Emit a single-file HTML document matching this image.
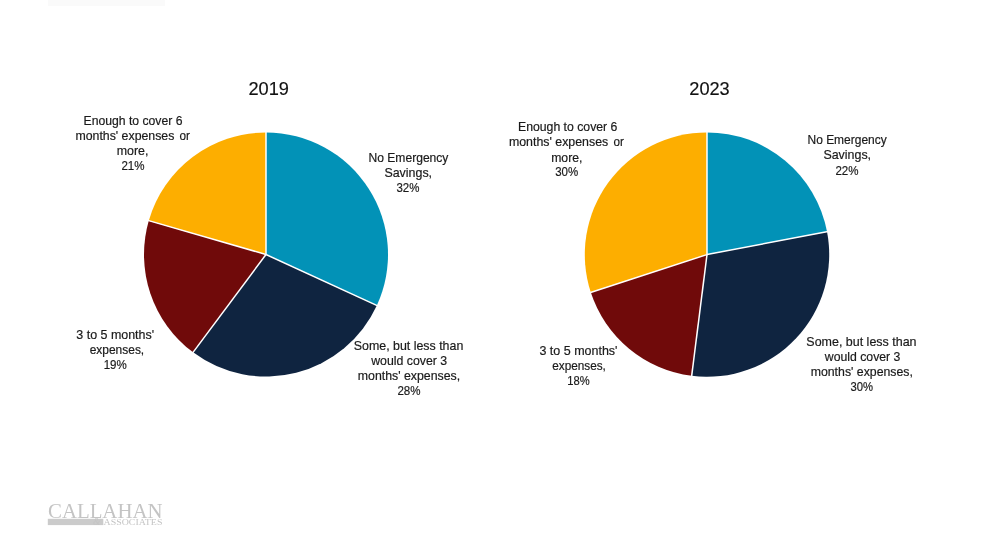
<!DOCTYPE html>
<html><head><meta charset="utf-8"><style>
html,body{margin:0;padding:0;background:#fff;}
body{width:1000px;height:543px;overflow:hidden;}
svg{display:block;}
.t{filter:grayscale(1);}
.t text{font-family:"Liberation Sans",Arial,sans-serif;font-size:13.0px;fill:#1a1a1a;stroke:#1a1a1a;stroke-width:0.2px;}
.t text.h{font-size:18.2px;fill:#111;stroke:#111;stroke-width:0.15px;text-anchor:middle;}
.logo text{font-family:"Liberation Serif","Times New Roman",serif;fill:#c4c4c4;}
.cal{font-size:21px;fill:#c2c2c2;}
.amp{font-size:9.5px;font-style:italic;fill:#939393;}
.assoc{font-size:8.5px;fill:#cdcdcd;}
</style></head><body>
<svg width="1000" height="543" viewBox="0 0 1000 543">
<defs><filter id="gs"><feColorMatrix type="saturate" values="0"/></filter></defs>
<path d="M266,254.5 L266.00,132.50 A122,122 0 0 1 376.84,305.48 Z" fill="#0292b7"/>
<path d="M266,254.5 L376.84,305.48 A122,122 0 0 1 193.09,352.32 Z" fill="#0f2440"/>
<path d="M266,254.5 L193.09,352.32 A122,122 0 0 1 148.78,220.67 Z" fill="#700a0a"/>
<path d="M266,254.5 L148.78,220.67 A122,122 0 0 1 266.00,132.50 Z" fill="#fdae00"/>
<line x1="266" y1="254.5" x2="266.00" y2="131.50" stroke="#fff" stroke-width="1.5"/>
<line x1="266" y1="254.5" x2="377.75" y2="305.90" stroke="#fff" stroke-width="1.5"/>
<line x1="266" y1="254.5" x2="192.49" y2="353.12" stroke="#fff" stroke-width="1.5"/>
<line x1="266" y1="254.5" x2="147.82" y2="220.39" stroke="#fff" stroke-width="1.5"/>
<path d="M707,254.6 L707.00,132.40 A122.2,122.2 0 0 1 827.04,231.70 Z" fill="#0292b7"/>
<path d="M707,254.6 L827.04,231.70 A122.2,122.2 0 0 1 691.68,375.84 Z" fill="#0f2440"/>
<path d="M707,254.6 L691.68,375.84 A122.2,122.2 0 0 1 590.78,292.36 Z" fill="#700a0a"/>
<path d="M707,254.6 L590.78,292.36 A122.2,122.2 0 0 1 707.00,132.40 Z" fill="#fdae00"/>
<line x1="707" y1="254.6" x2="707.00" y2="131.40" stroke="#fff" stroke-width="1.5"/>
<line x1="707" y1="254.6" x2="828.02" y2="231.51" stroke="#fff" stroke-width="1.5"/>
<line x1="707" y1="254.6" x2="691.56" y2="376.83" stroke="#fff" stroke-width="1.5"/>
<line x1="707" y1="254.6" x2="589.83" y2="292.67" stroke="#fff" stroke-width="1.5"/>
<g class="t">
<text class="h" x="268.7" y="95.3">2019</text>
<text class="h" x="709.5" y="95.3">2023</text>
<text class="l" id="s0" x="83.50" y="125.0" textLength="99.00" lengthAdjust="spacingAndGlyphs">Enough to cover 6</text>
<text class="l" id="s1" x="75.40" y="139.8" textLength="99.00" lengthAdjust="spacingAndGlyphs">months' expenses</text>
<text class="l" id="s2" x="179.45" y="139.8" textLength="10.45" lengthAdjust="spacingAndGlyphs">or</text>
<text class="l" id="s3" x="116.70" y="154.9" textLength="31.70" lengthAdjust="spacingAndGlyphs">more,</text>
<text class="l" id="s4" x="121.40" y="169.9" textLength="23.10" lengthAdjust="spacingAndGlyphs">21%</text>
<text class="l" id="s5" x="368.50" y="161.7" textLength="79.90" lengthAdjust="spacingAndGlyphs">No Emergency</text>
<text class="l" id="s6" x="384.40" y="176.7" textLength="47.70" lengthAdjust="spacingAndGlyphs">Savings,</text>
<text class="l" id="s7" x="396.40" y="191.7" textLength="23.00" lengthAdjust="spacingAndGlyphs">32%</text>
<text class="l" id="s8" x="353.80" y="349.8" textLength="109.50" lengthAdjust="spacingAndGlyphs">Some, but less than</text>
<text class="l" id="s9" x="371.20" y="364.8" textLength="76.00" lengthAdjust="spacingAndGlyphs">would cover 3</text>
<text class="l" id="s10" x="357.80" y="379.8" textLength="102.40" lengthAdjust="spacingAndGlyphs">months' expenses,</text>
<text class="l" id="s11" x="397.40" y="394.8" textLength="23.10" lengthAdjust="spacingAndGlyphs">28%</text>
<text class="l" id="s12" x="76.30" y="338.9" textLength="77.80" lengthAdjust="spacingAndGlyphs">3 to 5 months'</text>
<text class="l" id="s13" x="89.70" y="353.7" textLength="54.50" lengthAdjust="spacingAndGlyphs">expenses,</text>
<text class="l" id="s14" x="103.70" y="368.9" textLength="23.10" lengthAdjust="spacingAndGlyphs">19%</text>
<text class="l" id="s15" x="518.00" y="131.3" textLength="99.40" lengthAdjust="spacingAndGlyphs">Enough to cover 6</text>
<text class="l" id="s16" x="508.95" y="146.3" textLength="99.25" lengthAdjust="spacingAndGlyphs">months' expenses</text>
<text class="l" id="s17" x="613.50" y="146.3" textLength="10.35" lengthAdjust="spacingAndGlyphs">or</text>
<text class="l" id="s18" x="551.20" y="161.6" textLength="31.20" lengthAdjust="spacingAndGlyphs">more,</text>
<text class="l" id="s19" x="555.20" y="176.2" textLength="23.00" lengthAdjust="spacingAndGlyphs">30%</text>
<text class="l" id="s20" x="807.50" y="144.4" textLength="79.20" lengthAdjust="spacingAndGlyphs">No Emergency</text>
<text class="l" id="s21" x="823.40" y="159.4" textLength="47.70" lengthAdjust="spacingAndGlyphs">Savings,</text>
<text class="l" id="s22" x="835.40" y="174.6" textLength="23.10" lengthAdjust="spacingAndGlyphs">22%</text>
<text class="l" id="s23" x="806.35" y="345.8" textLength="110.15" lengthAdjust="spacingAndGlyphs">Some, but less than</text>
<text class="l" id="s24" x="824.80" y="360.7" textLength="75.60" lengthAdjust="spacingAndGlyphs">would cover 3</text>
<text class="l" id="s25" x="810.70" y="375.7" textLength="102.20" lengthAdjust="spacingAndGlyphs">months' expenses,</text>
<text class="l" id="s26" x="850.60" y="390.9" textLength="22.55" lengthAdjust="spacingAndGlyphs">30%</text>
<text class="l" id="s27" x="539.40" y="354.9" textLength="78.10" lengthAdjust="spacingAndGlyphs">3 to 5 months'</text>
<text class="l" id="s28" x="552.20" y="369.8" textLength="53.70" lengthAdjust="spacingAndGlyphs">expenses,</text>
<text class="l" id="s29" x="567.20" y="384.9" textLength="22.40" lengthAdjust="spacingAndGlyphs">18%</text>
</g>
<g class="logo" filter="url(#gs)">
<rect x="48" y="0" width="117" height="6" fill="#fafafa"/>
<text x="48" y="517.6" class="cal" textLength="114.5" lengthAdjust="spacingAndGlyphs">CALLAHAN</text>
<rect x="47.8" y="518.8" width="55.5" height="6.3" fill="#cbcbcb"/>
<text x="93" y="525.4" class="amp">&amp;</text>
<text x="103.6" y="525.1" class="assoc" textLength="58.8" lengthAdjust="spacingAndGlyphs">ASSOCIATES</text>
</g>
</svg>
</body></html>
